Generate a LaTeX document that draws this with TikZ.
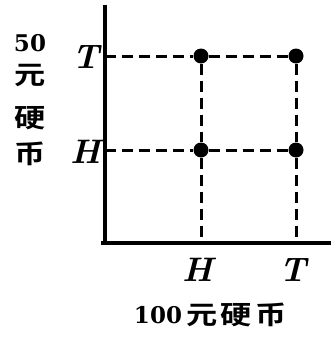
\documentclass[tikz,border=0pt]{standalone}
\usepackage{fontspec}
\newfontfamily\cjk{Noto Sans CJK SC Bold}
\newfontfamily\numfont{DejaVu Serif}[BoldFont={DejaVu Serif Bold}]
\newcommand{\wide}[1]{\scalebox{1.2}[1]{#1}}
\begin{document}
\begin{tikzpicture}[x=1pt,y=-1pt,
  axis/.style={line width=3.6pt},
  grid/.style={line width=3pt,dash pattern=on 11pt off 6pt},
  dot/.style={circle,fill=black,inner sep=0pt,minimum size=15pt},
  lab/.style={font=\fontsize{34}{34}\selectfont\bfseries\itshape,inner sep=0pt},
  cn/.style={font=\fontsize{26}{26}\selectfont\cjk,inner sep=0pt},
  num/.style={font=\fontsize{23}{23}\selectfont\numfont\bfseries,inner sep=0pt}]
\useasboundingbox (0,0) rectangle (332,340);
\coordinate (O) at (105,243);
\coordinate (ytop) at (105,5);
\coordinate (xend) at (331,243);
\coordinate (x0) at (101,243);
\draw[axis] (x0) -- (xend);
\draw[axis] (O) -- (ytop);
\node[dot] (HT) at (201,56) {};
\node[dot] (TT) at (296,56) {};
\node[dot] (HH) at (201,150) {};
\node[dot] (TH) at (296,150) {};
\coordinate (yT) at (105,56);
\coordinate (yH) at (105,150);
\coordinate (xH) at (201,243);
\coordinate (xT) at (296,243);
\draw[grid] (yT) -- (HT) -- (TT);
\draw[grid] (yH) -- (HH) -- (TH);
\draw[grid] (HT) -- (HH) -- (xH);
\draw[grid] (TT) -- (TH) -- (xT);
\node[lab] (lT) at (86,57) {T};
\node[lab] (lH) at (86,152) {H};
\node[lab] (bH) at (198,270) {H};
\node[lab] (bT) at (293,270) {T};
\node[num] (c50) at (30,43) {50};
\node[cn] (c1) at (30,76) {\wide{元}};
\node[cn] (c2) at (30,118) {\wide{硬}};
\node[cn] (c3) at (30,154) {\wide{币}};
\node[num] (b100) at (158,315) {100};
\node[cn,anchor=west] (bottom) at (186,315) {\wide{元}\hspace{3pt}\wide{硬}\hspace{4pt}\wide{币}};
\end{tikzpicture}
\end{document}
